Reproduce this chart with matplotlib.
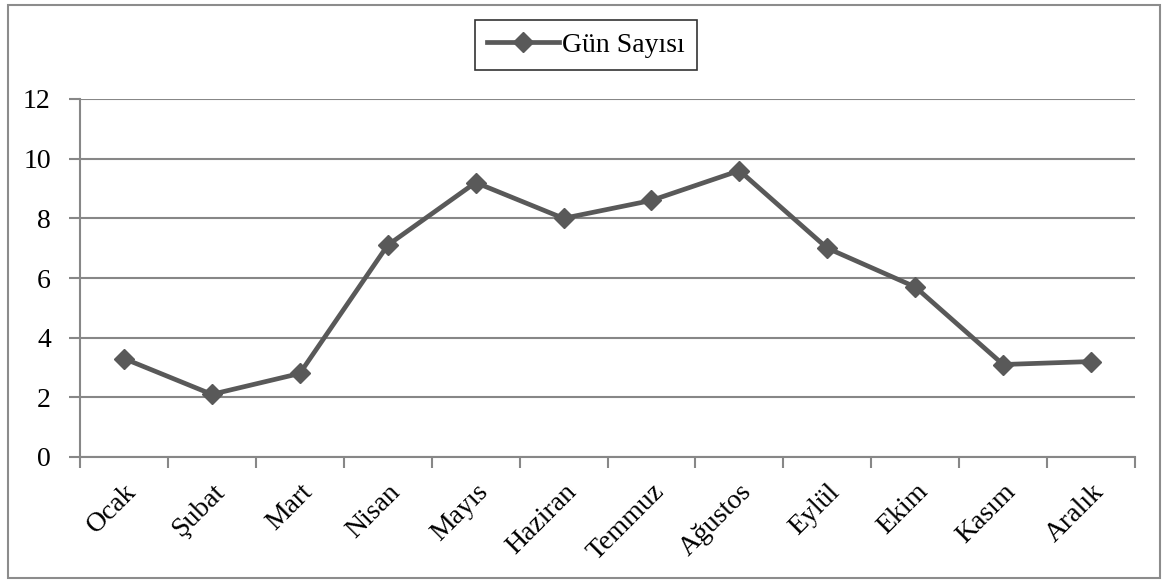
import matplotlib
matplotlib.use("Agg")
import matplotlib.pyplot as plt
import numpy as np
from matplotlib.patches import Rectangle

months = ["Ocak", "Şubat", "Mart", "Nisan", "Mayıs", "Haziran", "Temmuz",
          "Ağustos", "Eylül", "Ekim", "Kasım", "Aralık"]
days = [3.3, 2.1, 2.8, 7.1, 9.2, 8.0, 8.6, 9.6, 7.0, 5.7, 3.1, 3.2]
series_name = "Gün Sayısı"
yticks = [0, 2, 4, 6, 8, 10, 12]

plt.rcParams['font.family'] = ['Liberation Serif', 'DejaVu Serif']

W, H = 1167, 584
fig = plt.figure(figsize=(W / 100, H / 100), dpi=100)
ax = fig.add_axes([80 / W, 1 - 457 / H, (1135 - 80) / W, (457 - 99) / H])

grid_c = "#878787"
line_c = "#595959"

x = np.arange(len(months))
ln, = ax.plot(x, days, color=line_c, lw=3.4, marker='D', markersize=10.5,
              markerfacecolor=line_c, markeredgecolor=line_c, label=series_name,
              zorder=3, solid_joinstyle='miter')

ax.set_xlim(-0.5, len(months) - 0.5)
ax.set_ylim(0, 12)
ax.set_yticks(yticks)
ax.set_yticklabels([str(v) for v in yticks], fontsize=20)
for v in yticks:
    ax.axhline(v, color=grid_c, lw=1.5, zorder=1)

ax.set_xticks(np.arange(-0.5, len(months)), minor=False)
ax.set_xticklabels([])
ax.set_xticks(x, minor=True)
ax.set_xticklabels(months, minor=True, fontsize=20, rotation=45,
                   ha='right', va='top', rotation_mode='anchor')
ax.tick_params(axis='x', which='major', length=8, width=1.5, color=grid_c, direction='out')
ax.tick_params(axis='x', which='minor', length=0, pad=16)
ax.tick_params(axis='y', length=8, width=1.5, color=grid_c, pad=13)

for s in ['top', 'right']:
    ax.spines[s].set_visible(False)
for s in ['left', 'bottom']:
    ax.spines[s].set_color(grid_c)
    ax.spines[s].set_linewidth(1.5)

leg = fig.legend(handles=[ln], loc='center', bbox_to_anchor=(586 / W, 1 - 45 / H),
                 fontsize=20, frameon=True, fancybox=False, edgecolor='black',
                 handlelength=2.6, handletextpad=0.1, borderpad=0.45, borderaxespad=0)
leg.get_frame().set_linewidth(1.2)

fig.add_artist(Rectangle((8 / W, 1 - 578 / H), (1160 - 8) / W, (578 - 5) / H,
                         transform=fig.transFigure, fill=False, edgecolor="#8c8c8c",
                         lw=1.5))

fig.savefig("out.png", dpi=100)
